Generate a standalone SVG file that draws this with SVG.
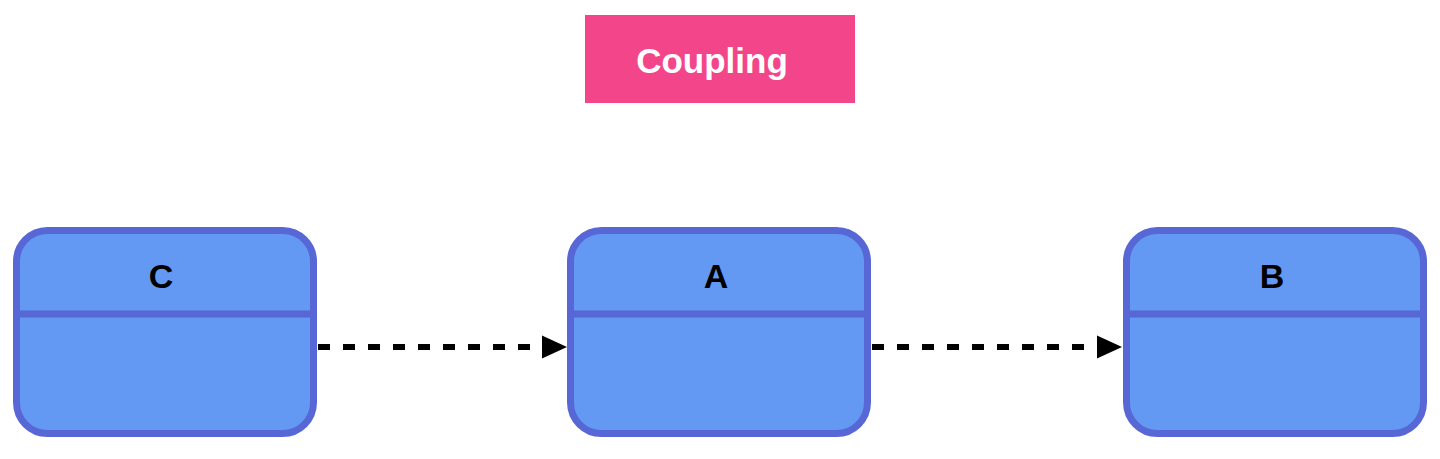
<svg xmlns="http://www.w3.org/2000/svg" width="1440" height="459" viewBox="0 0 1440 459">
<defs>
<style>
.box{fill:#6399F3;stroke:#5867D6;stroke-width:7}
.div{stroke:#5867D6;stroke-width:7}
.lbl{font-family:"Liberation Sans",Arial,sans-serif;font-weight:bold;font-size:34px;fill:#000;text-anchor:middle}
.title{font-family:"Liberation Sans",Arial,sans-serif;font-weight:bold;font-size:35px;fill:#fff;text-anchor:middle}
.conn{stroke:#000;stroke-width:6;stroke-dasharray:12 13;fill:none}
</style>
</defs>
<rect width="1440" height="459" fill="#fff"/>
<g id="title">
<rect x="585" y="15" width="270" height="88" fill="#F3468A"/>
<text class="title" x="712" y="73">Coupling</text>
</g>
<g id="node-C">
<rect class="box" x="16.5" y="230.5" width="297" height="203" rx="31"/>
<line class="div" x1="16.5" y1="314" x2="313.5" y2="314"/>
<text class="lbl" x="161" y="288">C</text>
</g>
<g id="node-A">
<rect class="box" x="570.5" y="230.5" width="297" height="203" rx="31"/>
<line class="div" x1="570.5" y1="314" x2="867.5" y2="314"/>
<text class="lbl" x="716" y="288">A</text>
</g>
<g id="node-B">
<rect class="box" x="1126.5" y="230.5" width="297" height="203" rx="31"/>
<line class="div" x1="1126.5" y1="314" x2="1423.5" y2="314"/>
<text class="lbl" x="1272" y="288">B</text>
</g>
<g id="connectors">
<line class="conn" x1="318" y1="347" x2="545" y2="347"/>
<path d="M542,335.5 L567,347 L542,358.5 Z" fill="#000"/>
<line class="conn" x1="872" y1="347" x2="1100" y2="347"/>
<path d="M1097,335.5 L1122,347 L1097,358.5 Z" fill="#000"/>
</g>
</svg>
